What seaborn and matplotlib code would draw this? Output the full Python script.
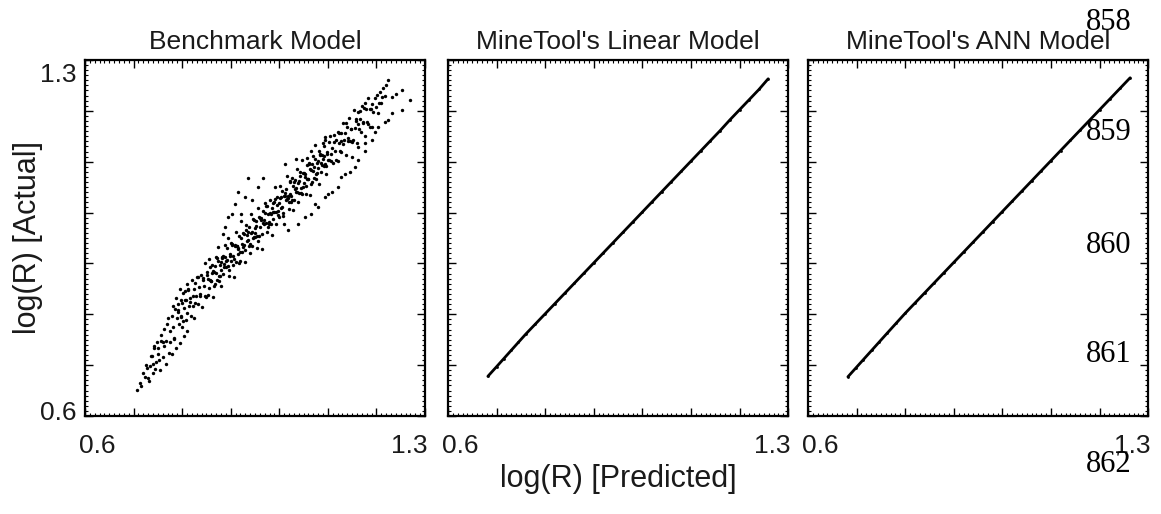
import matplotlib.pyplot as plt
import seaborn as sns
from matplotlib.ticker import MultipleLocator
from matplotlib.transforms import ScaledTranslation

# Benchmark model: predicted vs actual log(R)
tip_pred = [0.708, 0.713, 0.716, 0.720, 0.723, 0.727, 0.730, 0.733, 0.737, 0.740,
            0.743, 0.746, 0.750, 0.753, 0.756, 0.760, 0.763, 0.766, 0.770, 0.774,
            0.726, 0.731, 0.735, 0.739, 0.742, 0.745, 0.748, 0.751, 0.754, 0.757,
            0.760, 0.763, 0.766, 0.769, 0.772, 0.776, 0.779, 0.783, 0.787, 0.791,
            0.795, 0.799, 0.803, 0.806, 0.810]
tip_actual = [0.652, 0.664, 0.658, 0.685, 0.677, 0.694, 0.675, 0.698, 0.717, 0.702,
              0.737, 0.707, 0.733, 0.711, 0.748, 0.745, 0.772, 0.747, 0.793, 0.746,
              0.701, 0.668, 0.718, 0.684, 0.733, 0.693, 0.745, 0.722, 0.691, 0.760,
              0.716, 0.738, 0.702, 0.781, 0.724, 0.768, 0.722, 0.752, 0.733, 0.808,
              0.744, 0.822, 0.757, 0.846, 0.768]

low_pred = [0.779, 0.781, 0.782, 0.784, 0.786, 0.788, 0.789, 0.791, 0.793, 0.795,
            0.797, 0.798, 0.800, 0.802, 0.804, 0.806, 0.807, 0.809, 0.811, 0.813,
            0.815, 0.816, 0.818, 0.820, 0.822, 0.824, 0.825, 0.827, 0.829, 0.831,
            0.833, 0.835, 0.837, 0.839, 0.841, 0.843, 0.845, 0.847, 0.849]
low_actual = [0.796, 0.816, 0.775, 0.754, 0.811, 0.832, 0.793, 0.804, 0.780, 0.850,
              0.795, 0.828, 0.775, 0.842, 0.812, 0.828, 0.789, 0.860, 0.802, 0.849,
              0.817, 0.832, 0.797, 0.867, 0.817, 0.850, 0.793, 0.861, 0.836, 0.874,
              0.821, 0.854, 0.835, 0.878, 0.815, 0.872, 0.856, 0.900, 0.834]

mid_pred = [0.851, 0.854, 0.856, 0.859, 0.861, 0.864, 0.866, 0.869, 0.871, 0.874,
            0.876, 0.879, 0.881, 0.884, 0.886, 0.889, 0.891, 0.894, 0.896, 0.899,
            0.901, 0.904, 0.906, 0.909, 0.911, 0.914, 0.916, 0.919, 0.921, 0.924,
            0.926, 0.929, 0.931, 0.934, 0.936, 0.939, 0.941, 0.944, 0.946, 0.949,
            0.951, 0.954, 0.956, 0.959, 0.961, 0.964, 0.966, 0.969, 0.971, 0.974,
            0.976, 0.979, 0.981, 0.984, 0.986, 0.989, 0.991, 0.994, 0.996, 0.999,
            1.001, 1.004, 1.006, 1.009, 1.011, 1.014, 1.016, 1.019, 1.021, 1.024,
            1.026, 1.029, 1.031, 1.034, 1.036, 1.039, 1.041, 1.044, 1.046, 1.049,
            1.051, 1.054, 1.056, 1.059, 1.061, 1.064, 1.066, 1.069, 1.071, 1.074,
            1.076, 1.079, 1.081, 1.084, 1.086, 1.089, 1.091, 1.094, 1.096, 1.099]
mid_actual = [0.877, 0.837, 0.908, 0.866, 0.897, 0.834, 0.883, 0.912, 0.867, 0.933,
              0.865, 0.902, 0.856, 0.915, 0.898, 0.936, 0.892, 0.949, 0.875, 0.919,
              0.941, 0.897, 0.873, 0.937, 0.961, 0.919, 0.931, 0.905, 0.983, 0.922,
              0.960, 0.902, 0.976, 0.944, 0.961, 0.920, 0.998, 0.935, 0.987, 0.952,
              0.969, 0.931, 1.009, 0.954, 0.990, 0.929, 1.004, 0.977, 1.019, 0.961,
              0.998, 0.978, 1.025, 0.956, 1.019, 1.002, 1.051, 0.978, 1.015, 0.991,
              1.052, 1.008, 1.043, 0.978, 1.038, 1.025, 1.072, 1.007, 1.037, 1.021,
              1.068, 1.005, 1.061, 1.040, 1.085, 1.021, 1.062, 1.038, 1.104, 1.051,
              1.077, 1.037, 1.108, 1.066, 1.097, 1.034, 1.083, 1.112, 1.067, 1.133,
              1.065, 1.102, 1.056, 1.115, 1.098, 1.136, 1.092, 1.149, 1.075, 1.119]

core_pred = [0.853, 0.855, 0.858, 0.860, 0.863, 0.865, 0.868, 0.870, 0.873, 0.875,
             0.878, 0.880, 0.883, 0.885, 0.888, 0.890, 0.893, 0.895, 0.898, 0.900,
             0.903, 0.905, 0.908, 0.910, 0.913, 0.915, 0.918, 0.920, 0.923, 0.925,
             0.928, 0.930, 0.933, 0.935, 0.938, 0.940, 0.943, 0.945, 0.948, 0.950,
             0.953, 0.955, 0.958, 0.960, 0.963, 0.965, 0.968, 0.970, 0.973, 0.975,
             0.978, 0.980, 0.983, 0.985, 0.988, 0.990, 0.993, 0.995, 0.998, 1.000,
             1.003, 1.005, 1.008, 1.010, 1.013, 1.015, 1.018, 1.020, 1.023, 1.025,
             1.028, 1.030, 1.033, 1.035, 1.038, 1.040, 1.043, 1.045, 1.048, 1.050,
             1.053, 1.055, 1.058, 1.060, 1.063, 1.065, 1.068, 1.070, 1.073, 1.075,
             1.078, 1.080, 1.083, 1.085, 1.088, 1.090, 1.093, 1.095, 1.098, 1.100]
core_actual = [0.870, 0.852, 0.893, 0.865, 0.886, 0.856, 0.895, 0.882, 0.905, 0.876,
               0.897, 0.887, 0.913, 0.879, 0.913, 0.905, 0.931, 0.895, 0.915, 0.904,
               0.936, 0.915, 0.935, 0.903, 0.934, 0.928, 0.954, 0.922, 0.939, 0.932,
               0.957, 0.926, 0.956, 0.946, 0.971, 0.939, 0.962, 0.950, 0.985, 0.959,
               0.974, 0.954, 0.992, 0.971, 0.989, 0.958, 0.985, 0.999, 0.979, 1.012,
               0.981, 0.999, 0.978, 1.008, 1.002, 1.021, 1.002, 1.030, 0.995, 1.018,
               1.031, 1.010, 0.999, 1.032, 1.046, 1.026, 1.033, 1.021, 1.062, 1.032,
               1.053, 1.025, 1.064, 1.048, 1.059, 1.039, 1.080, 1.048, 1.077, 1.059,
               1.070, 1.052, 1.093, 1.065, 1.086, 1.056, 1.095, 1.082, 1.105, 1.076,
               1.097, 1.087, 1.113, 1.079, 1.113, 1.105, 1.131, 1.095, 1.115, 1.104]

# extra points near the centre of the band
centre_pred = [0.792, 0.797, 0.802, 0.807, 0.812, 0.817, 0.822, 0.827, 0.832, 0.837,
               0.842, 0.847, 0.852, 0.857, 0.862, 0.867, 0.872, 0.877, 0.882, 0.887,
               0.892, 0.897, 0.902, 0.907, 0.912, 0.917, 0.922, 0.927, 0.932, 0.937,
               0.942, 0.947, 0.952, 0.957, 0.962, 0.967, 0.972, 0.977, 0.982, 0.987,
               0.992, 0.997, 1.002, 1.007, 1.012, 1.017, 1.022, 1.027, 1.032, 1.037,
               1.042, 1.047, 1.052, 1.057, 1.062, 1.067, 1.072, 1.077, 1.082, 1.087,
               1.092, 1.097, 1.102, 1.107, 1.112, 1.117, 1.122, 1.127, 1.132, 1.137,
               1.142, 1.147, 1.152, 1.157, 1.162, 1.167, 1.172, 1.177, 1.182, 1.187]
centre_actual = [0.821, 0.797, 0.787, 0.828, 0.847, 0.825, 0.836, 0.823, 0.874, 0.840,
                 0.867, 0.835, 0.884, 0.868, 0.882, 0.860, 0.911, 0.876, 0.911, 0.893,
                 0.907, 0.888, 0.938, 0.909, 0.934, 0.901, 0.949, 0.936, 0.965, 0.934,
                 0.960, 0.951, 0.983, 0.945, 0.986, 0.979, 1.013, 0.972, 0.998, 0.987,
                 1.027, 1.004, 1.029, 0.993, 1.033, 1.028, 1.060, 1.024, 1.046, 1.040,
                 1.072, 1.037, 1.075, 1.065, 1.096, 1.061, 1.089, 1.078, 1.121, 1.093,
                 1.112, 1.091, 1.138, 1.116, 1.138, 1.104, 1.137, 1.157, 1.134, 1.177,
                 1.140, 1.165, 1.142, 1.180, 1.174, 1.200, 1.177, 1.215, 1.174, 1.204]

high_pred = [1.102, 1.104, 1.106, 1.109, 1.111, 1.113, 1.115, 1.117, 1.120, 1.122,
             1.124, 1.126, 1.128, 1.131, 1.133, 1.135, 1.137, 1.139, 1.142, 1.144,
             1.146, 1.148, 1.150, 1.153, 1.155, 1.157, 1.159, 1.161, 1.164, 1.166,
             1.168, 1.170, 1.172, 1.175, 1.177, 1.179, 1.181, 1.183, 1.186, 1.188,
             1.190, 1.193, 1.196, 1.199, 1.202, 1.205, 1.208, 1.211, 1.214, 1.217,
             1.220, 1.224]
high_actual = [1.104, 1.151, 1.102, 1.127, 1.097, 1.153, 1.121, 1.142, 1.102, 1.156,
               1.122, 1.140, 1.119, 1.177, 1.143, 1.157, 1.113, 1.169, 1.146, 1.186,
               1.140, 1.164, 1.138, 1.202, 1.166, 1.184, 1.137, 1.197, 1.164, 1.184,
               1.158, 1.209, 1.179, 1.206, 1.150, 1.203, 1.178, 1.226, 1.168, 1.203,
               1.214, 1.198, 1.225, 1.207, 1.231, 1.215, 1.238, 1.228, 1.244, 1.230,
               1.250, 1.261]

# sparse stripe below the main band (upper right)
stripe_pred = [1.018, 1.039, 1.053, 1.066, 1.073, 1.080, 1.094, 1.101, 1.108, 1.121,
               1.128, 1.135, 1.145, 1.149, 1.156, 1.162, 1.162, 1.176, 1.176, 1.190,
               1.190, 1.197, 1.204, 1.204, 1.210, 1.217, 1.224, 1.231, 1.231, 1.241,
               1.252, 1.252, 1.269]
stripe_actual = [0.965, 0.978, 0.991, 0.998, 1.017, 1.011, 1.030, 1.037, 1.040, 1.050,
                 1.070, 1.076, 1.080, 1.109, 1.090, 1.103, 1.129, 1.122, 1.136, 1.142,
                 1.169, 1.159, 1.169, 1.195, 1.215, 1.178, 1.182, 1.195, 1.228, 1.234,
                 1.201, 1.241, 1.221]

# scattered points above the band
upper_pred = [0.936, 0.967, 0.915, 0.929, 0.902, 0.922, 0.888, 0.895, 0.943, 0.908,
              0.884, 0.957, 1.011, 1.035, 1.066, 1.094, 1.121]
upper_actual = [1.067, 1.067, 1.040, 1.030, 0.998, 0.998, 0.971, 0.991, 1.024, 1.017,
                0.958, 1.050, 1.096, 1.106, 1.122, 1.142, 1.159]

# MineTool models: points fall almost exactly on the diagonal
linear_pred = [0.682, 0.700, 0.715, 0.730, 0.745, 0.760, 0.780, 0.800, 0.820, 0.840,
               0.860, 0.880, 0.900, 0.920, 0.940, 0.960, 0.980, 1.000, 1.020, 1.040,
               1.060, 1.080, 1.100, 1.120, 1.140, 1.160, 1.180, 1.200, 1.220, 1.240,
               1.259]
linear_actual = [0.678, 0.697, 0.713, 0.729, 0.745, 0.761, 0.781, 0.801, 0.821, 0.841,
                 0.861, 0.881, 0.901, 0.921, 0.941, 0.961, 0.981, 1.001, 1.021, 1.041,
                 1.061, 1.081, 1.101, 1.121, 1.141, 1.161, 1.182, 1.202, 1.222, 1.242,
                 1.263]

ann_pred = [0.682, 0.698, 0.714, 0.731, 0.747, 0.763, 0.781, 0.800, 0.820, 0.840,
            0.860, 0.880, 0.900, 0.920, 0.940, 0.960, 0.980, 1.000, 1.020, 1.040,
            1.060, 1.080, 1.100, 1.120, 1.140, 1.160, 1.180, 1.200, 1.221, 1.242,
            1.263]
ann_actual = [0.677, 0.694, 0.711, 0.729, 0.746, 0.763, 0.782, 0.802, 0.822, 0.842,
              0.862, 0.882, 0.902, 0.922, 0.942, 0.962, 0.982, 1.002, 1.022, 1.042,
              1.062, 1.082, 1.102, 1.122, 1.142, 1.162, 1.182, 1.202, 1.223, 1.244,
              1.265]

titles = ["Benchmark Model", "MineTool's Linear Model", "MineTool's ANN Model"]
major_ticks = [0.6, 0.7, 0.8, 0.9, 1.0, 1.1, 1.2, 1.3]
tick_labels = ["0.6", "", "", "", "", "", "", "1.3"]
line_numbers = ["858", "859", "860", "861", "862"]

bench_pred = (tip_pred + low_pred + mid_pred + core_pred + centre_pred + high_pred
              + stripe_pred + upper_pred)
bench_actual = (tip_actual + low_actual + mid_actual + core_actual + centre_actual
                + high_actual + stripe_actual + upper_actual)

sns.set_style("ticks")
plt.rcParams["font.family"] = ["Liberation Sans", "DejaVu Sans"]
plt.rcParams["text.color"] = "#1a1a1a"
plt.rcParams["axes.labelcolor"] = "#1a1a1a"

fig = plt.figure(figsize=(11.61, 5.14), dpi=100)
lefts = [0.0732, 0.3859, 0.6960]
axes = [fig.add_axes([left, 0.1907, 0.2929, 0.6926]) for left in lefts]


def nudge(label, dx, dy):
    # shift a tick label by a few pixels
    off = ScaledTranslation(dx / 100, dy / 100, fig.dpi_scale_trans)
    label.set_transform(label.get_transform() + off)


series = [(bench_pred, bench_actual), (linear_pred, linear_actual), (ann_pred, ann_actual)]
for i, (ax, title, (xs, ys)) in enumerate(zip(axes, titles, series)):
    if i > 0:
        sns.lineplot(x=xs, y=ys, ax=ax, color="black", linewidth=2.0,
                     sort=False, estimator=None)
        sns.scatterplot(x=xs, y=ys, ax=ax, s=4, color="black", linewidth=0)
    else:
        sns.scatterplot(x=xs, y=ys, ax=ax, s=6, color="black", linewidth=0)

    ax.set_xlim(0.6, 1.3)
    ax.set_ylim(0.6, 1.3)
    ax.set_title(title, fontsize=19, pad=8, color="#1a1a1a")

    ax.set_xticks(major_ticks, labels=tick_labels)
    ax.xaxis.set_minor_locator(MultipleLocator(0.01))
    ax.yaxis.set_minor_locator(MultipleLocator(0.01))
    if i == 0:
        ax.set_yticks(major_ticks, labels=tick_labels)
    else:
        ax.set_yticks(major_ticks, labels=[""] * len(major_ticks))

    ax.tick_params(which="both", direction="in", top=True, right=True,
                   colors="black", labelcolor="#1a1a1a", labelsize=19)
    ax.tick_params(which="major", length=6, width=1.0)
    ax.tick_params(which="minor", length=2.5, width=0.8)
    ax.tick_params(axis="x", pad=13)
    ax.tick_params(axis="y", pad=6)
    for sp in ax.spines.values():
        sp.set_linewidth(1.6)
        sp.set_color("black")

    xt = ax.xaxis.get_major_ticks()
    xt[0].label1.set_horizontalalignment("left")
    nudge(xt[0].label1, -6, 0)
    xt[-1].label1.set_horizontalalignment("right")
    nudge(xt[-1].label1, 2, 0)
    if i == 0:
        yt = ax.yaxis.get_major_ticks()
        yt[-1].label1.set_verticalalignment("top")
        nudge(yt[-1].label1, 0, -3)
        nudge(yt[0].label1, 0, 5)
    ax.set_xlabel("")
    ax.set_ylabel("")

axes[0].set_ylabel("log(R) [Actual]", fontsize=22)
axes[0].yaxis.set_label_coords(-0.124, 0.5)
axes[1].set_xlabel("log(R) [Predicted]", fontsize=22)
axes[1].xaxis.set_label_coords(0.5, -0.135)

# line numbers from the source document margin
for num, py in zip(line_numbers, [22, 133, 245, 355, 465]):
    fig.text(1109 / 1161, 1 - py / 514, num, ha="center", va="center", color="black",
             fontsize=22, family=["Liberation Serif", "DejaVu Serif"])

fig.savefig("out.png", dpi=100)
